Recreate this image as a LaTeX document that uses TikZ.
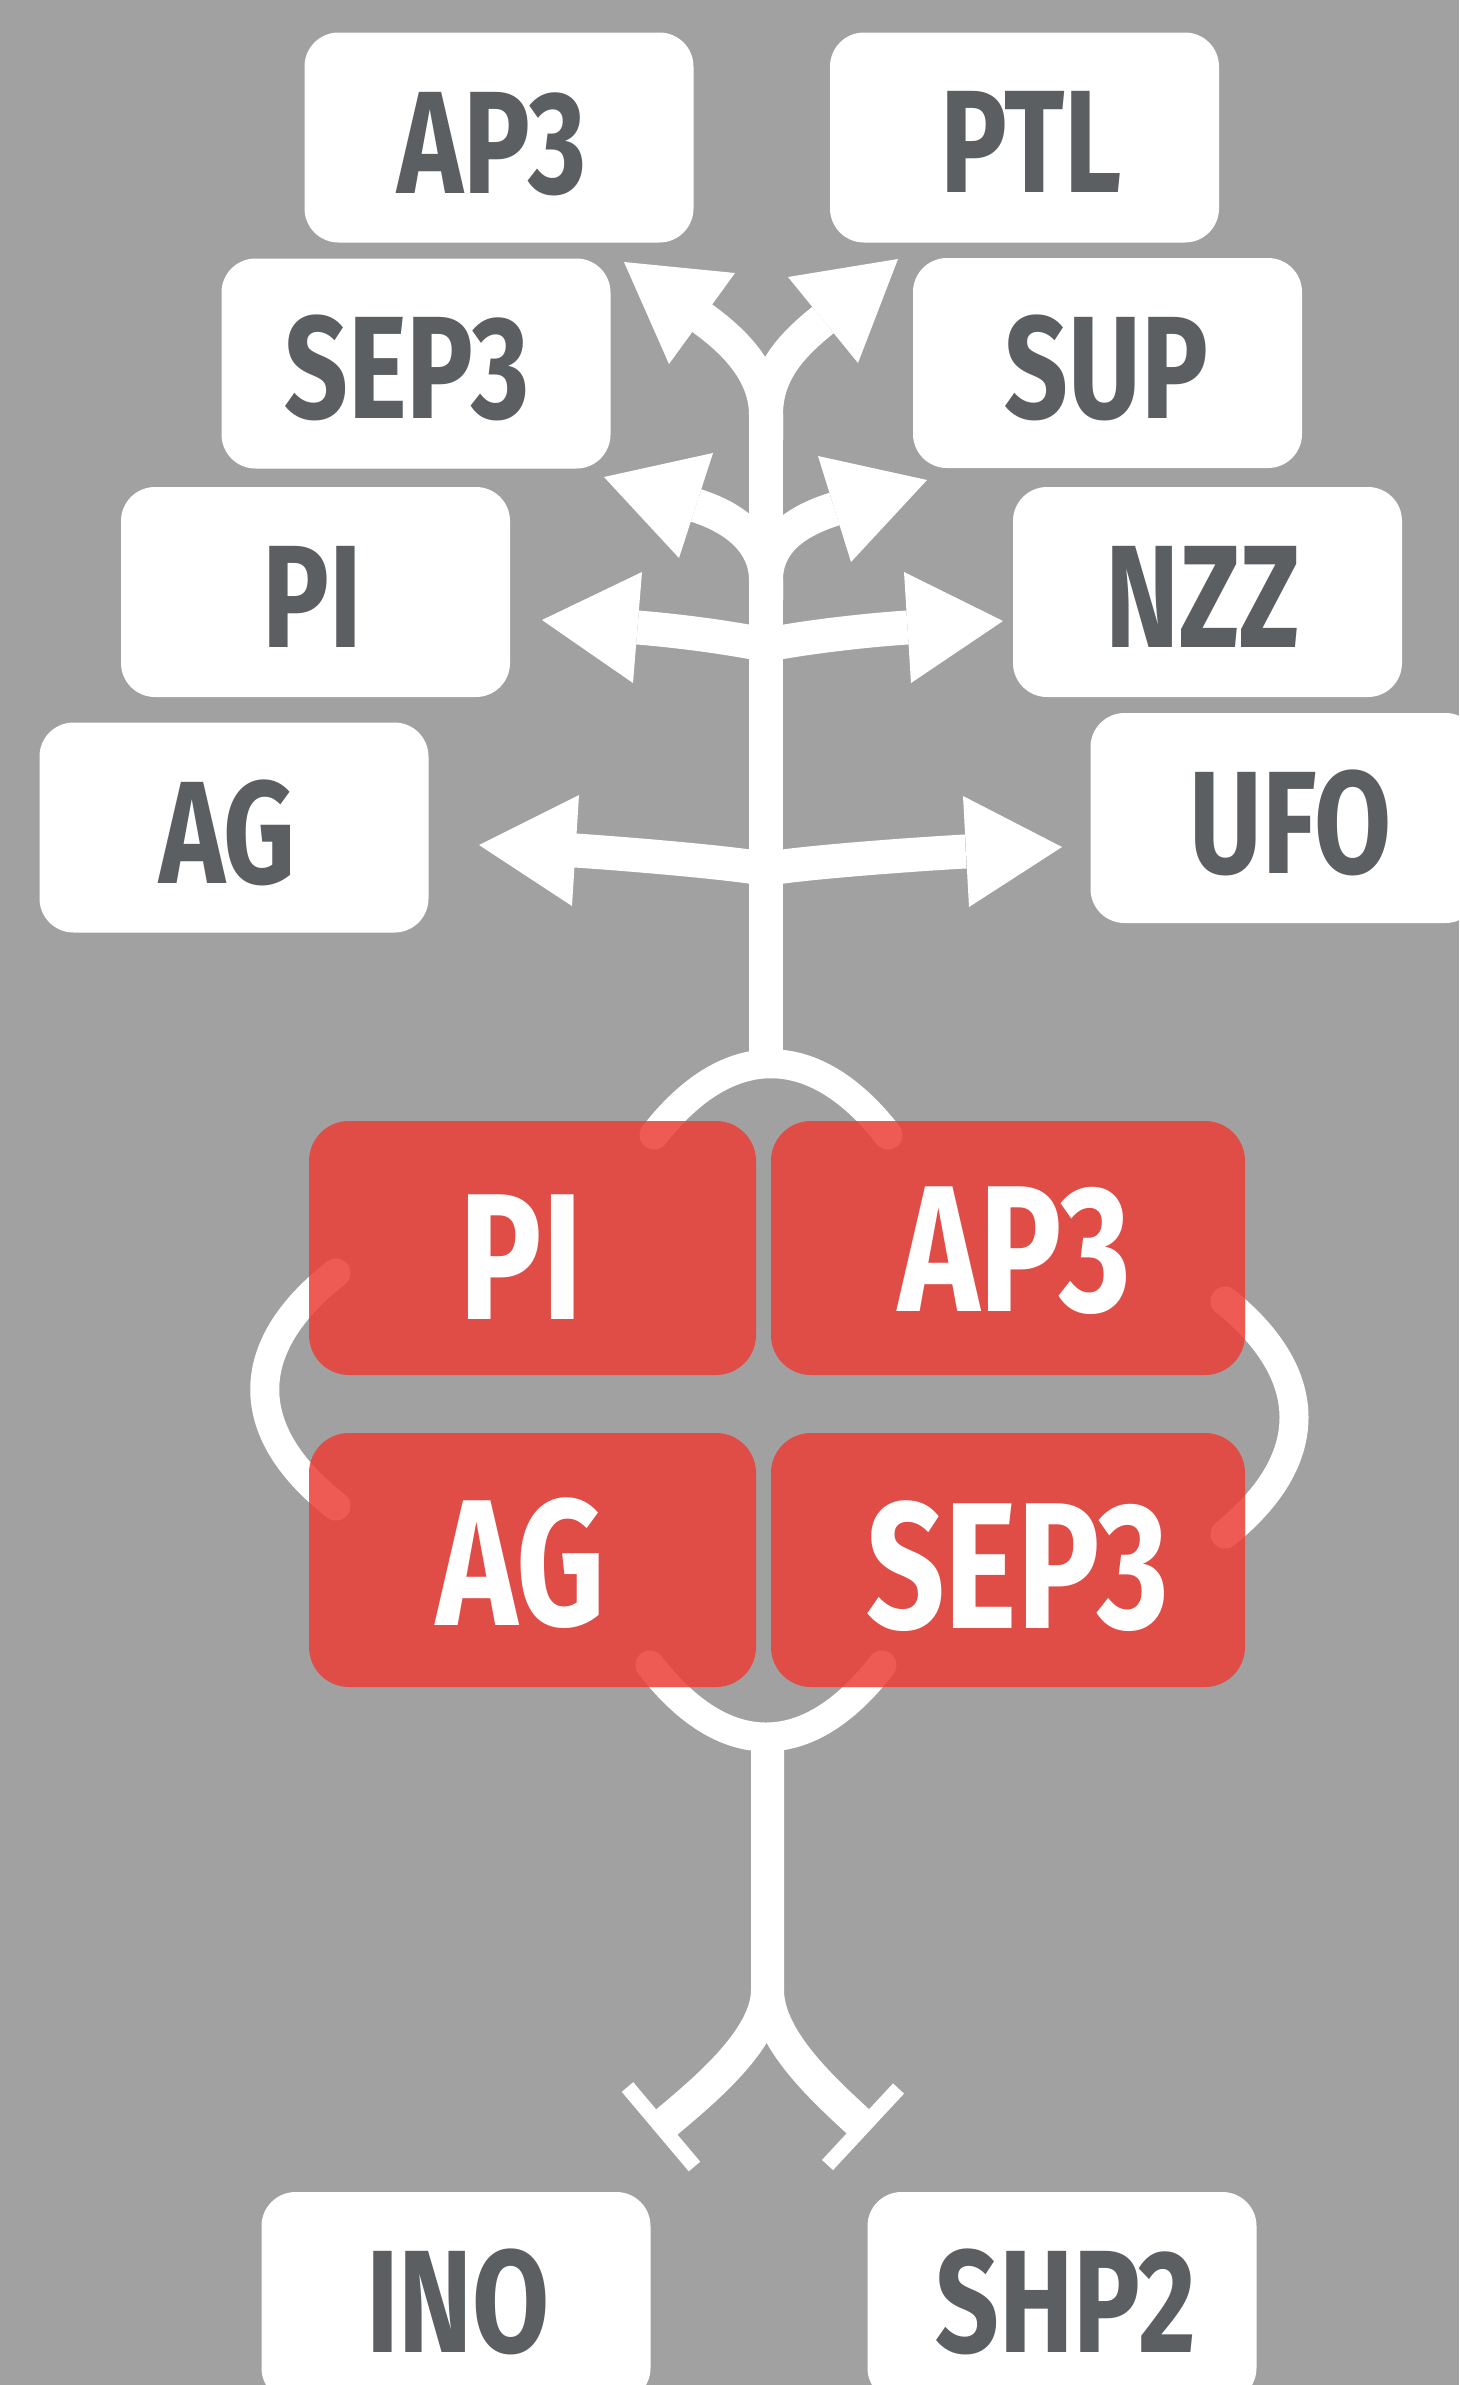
\documentclass[tikz,border=0pt]{standalone}
\usepackage{fontspec}
\newfontfamily\labfont[FakeStretch=0.765]{Fira Sans}
\definecolor{bggray}{RGB}{161,161,161}
\definecolor{txtgray}{RGB}{91,95,98}
\definecolor{boxred}{RGB}{236,62,55}
\tikzset{
  wbox/.style={fill=white, draw=none, rounded corners=34pt, inner sep=0pt, outer sep=0pt,
    minimum width=389pt, minimum height=210pt},
  rbox/.style={fill=boxred, fill opacity=0.85, draw=none, rounded corners=40pt, inner sep=0pt, outer sep=0pt,
    minimum height=254pt},
  wlab/.style={anchor=base, inner sep=0pt, text=txtgray, font=\labfont\bfseries\fontsize{146}{150}\selectfont},
  rlab/.style={anchor=base, inner sep=0pt, text=white, font=\labfont\bfseries\fontsize{180}{184}\selectfont},
  shaft/.style={draw=white, line width=34pt},
  loopline/.style={draw=white, line width=29pt, line cap=round},
  headtri/.style={fill=white, draw=none},
  tbar/.style={draw=white, line width=15pt}
}
\begin{document}
\begin{tikzpicture}[x=1pt, y=-1pt]
\useasboundingbox (0,0) rectangle (1459,2385);
\fill[bggray] (0,0) rectangle (1459,2385);

% white target boxes
\node[wbox] (ap3w) at (499,137.5) {};
\node[wbox] (ptlw) at (1024.5,137.5) {};
\node[wbox] (sep3w) at (416,363.5) {};
\node[wbox] (supw) at (1107.5,363) {};
\node[wbox] (piw) at (315.5,592) {};
\node[wbox] (nzzw) at (1207.5,592) {};
\node[wbox] (agw) at (234,827.5) {};
\node[wbox] (ufow) at (1285,818) {};
\node[wbox] (inow) at (456,2297) {};
\node[wbox] (shp2w) at (1062,2297) {};

\node[wlab] (ap3t) at (492,193) {AP3};
\node[wlab] (ptlt) at (1031,192) {PTL};
\node[wlab] (sep3t) at (407,418) {SEP3};
\node[wlab] (supt) at (1106.5,418) {SUP};
\node[wlab] (pit) at (312.5,647) {PI};
\node[wlab] (nzzt) at (1202.5,647) {NZZ};
\node[wlab] (agt) at (227.5,883) {AG};
\node[wlab] (ufot) at (1290.5,873) {UFO};
\node[wlab] (inot) at (458,2352) {INO};
\node[wlab] (shp2t) at (1066,2352) {SHP2};

% upper stem
\coordinate (stemtop) at (766,415);
\coordinate (stembot) at (766,1064);
\draw[shaft] (stemtop) -- (stembot);

% level 1 (AP3 / PTL)
\draw[shaft] (766,440) -- (766,415) .. controls (766,375) and (738,344) .. (702,318);
\draw[shaft] (766,440) -- (766,415) .. controls (766,375) and (788,348) .. (823,320);
\fill[headtri] (624,262) -- (735,273) -- (669,364) -- cycle;
\fill[headtri] (898,259) -- (788,277) -- (858,363) -- cycle;

% level 2 (SEP3 / SUP)
\draw[shaft] (766,600) -- (766,580) .. controls (766,545) and (739,519) .. (696,505.5);
\draw[shaft] (766,600) -- (766,580) .. controls (766,545) and (791.5,522.4) .. (834.5,509);
\fill[headtri] (604,477) -- (713,453) -- (679,558) -- cycle;
\fill[headtri] (927,480) -- (818,456) -- (851,562) -- cycle;

% level 3 (PI / NZZ)
\draw[shaft] (637.5,627.5) .. controls (677.5,630.7) and (726,637) .. (766,645)
  .. controls (806,637) and (867.5,630) .. (907.5,627.5);
\fill[headtri] (542,620) -- (642,572) -- (633,683) -- cycle;
\fill[headtri] (1003,621) -- (904,572) -- (911,683) -- cycle;

% level 4 (AG / UFO)
\draw[shaft] (575,850.5) .. controls (615,853) and (726,862) .. (766,869)
  .. controls (806,862) and (926,853.5) .. (965.7,851.5);
\fill[headtri] (479,845) -- (579,795) -- (572,906) -- cycle;
\fill[headtri] (1062,847) -- (963,796) -- (969,907) -- cycle;

% loop around the complex
\draw[loopline] (654,1135) .. controls (728,1040) and (814,1040) .. (888,1135);
\draw[loopline] (336,1273) .. controls (241,1347) and (241,1432) .. (336,1506);
\draw[loopline] (1225,1301) .. controls (1317,1375) and (1317,1460) .. (1225,1534);
\draw[loopline] (650,1665) .. controls (724,1761) and (808,1761) .. (882,1665);

% lower stem with inhibition bars
\coordinate (lstemtop) at (767.5,1737);
\coordinate (lbar) at (662,2126);
\coordinate (rbar) at (862.5,2125.6);
\draw[draw=white, line width=33pt] (lstemtop) -- (767.5,1990) .. controls (767.5,2040) and (700,2094) .. (lbar);
\draw[draw=white, line width=33pt] (767.5,1990) .. controls (767.5,2040) and (825.8,2091.7) .. (rbar);
\draw[tbar] (627.5,2087) -- (694.5,2166.5);
\draw[tbar] (898.5,2088.5) -- (827.5,2165);

% red complex boxes
\node[rbox, minimum width=447pt] (pir) at (532.5,1248) {};
\node[rbox, minimum width=474pt] (ap3r) at (1008,1248) {};
\node[rbox, minimum width=447pt] (agr) at (532.5,1560) {};
\node[rbox, minimum width=474pt] (sep3r) at (1008,1560) {};

\node[rlab] (pirt) at (521,1319) {PI};
\node[rlab] (ap3rt) at (1014.5,1311) {AP3};
\node[rlab] (agrt) at (521,1625) {AG};
\node[rlab] (sep3rt) at (1017.5,1628) {SEP3};
\end{tikzpicture}
\end{document}
